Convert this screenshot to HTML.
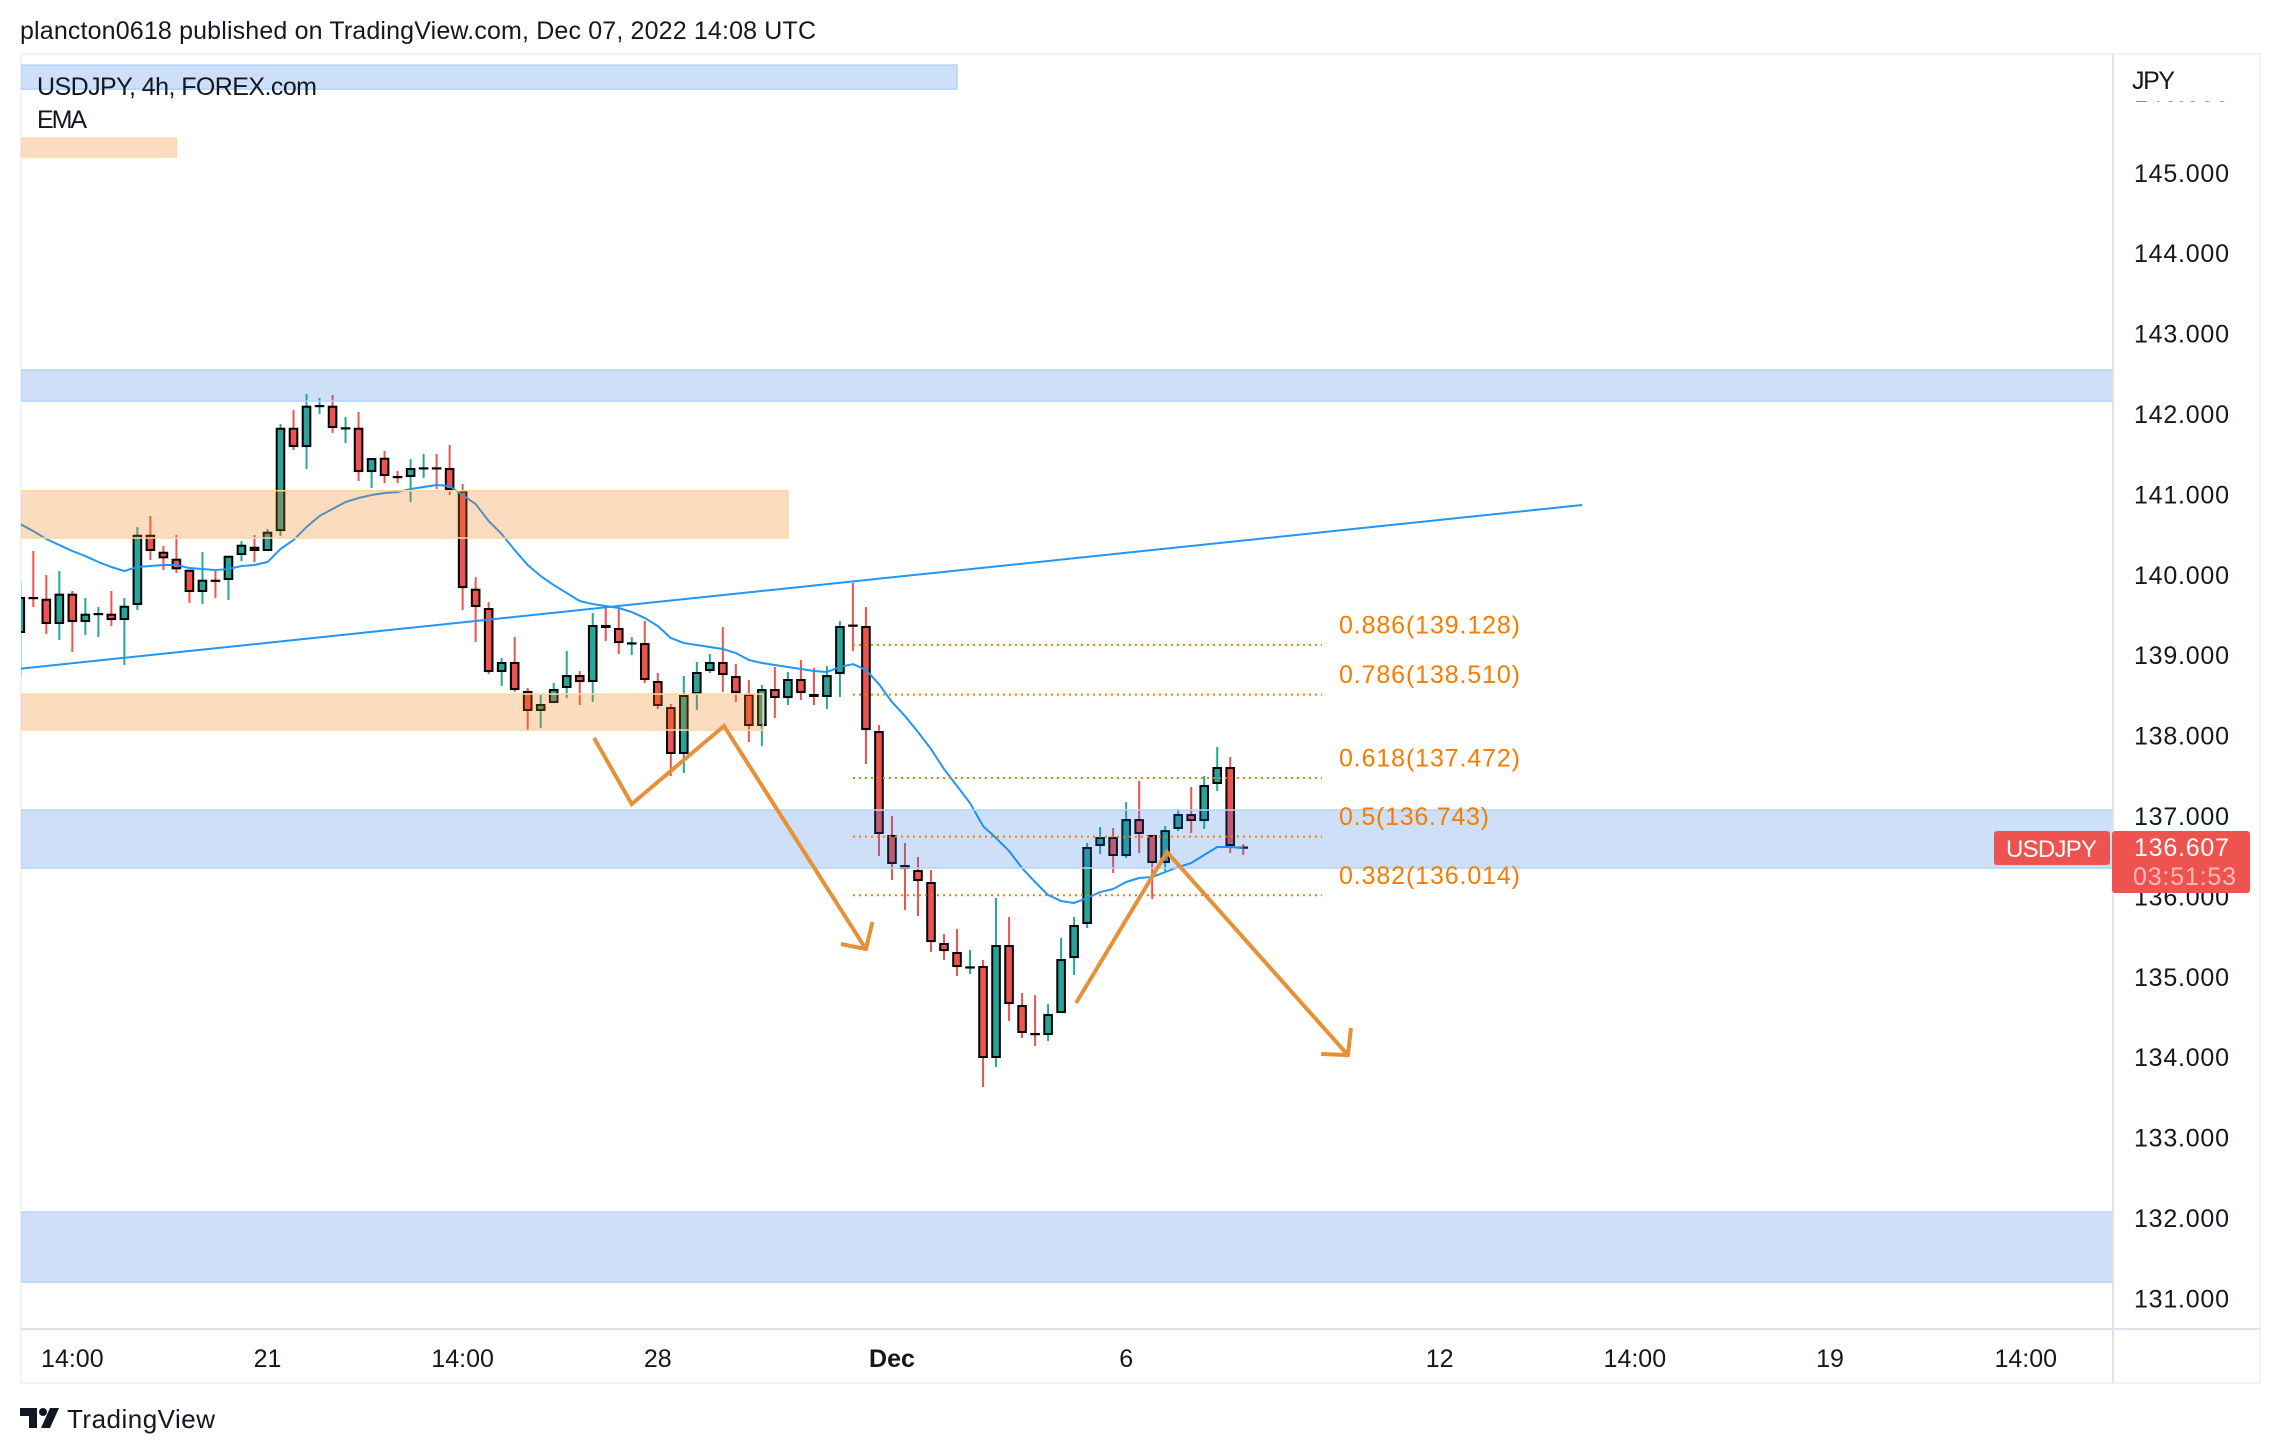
<!DOCTYPE html>
<html lang="en">
<head>
<meta charset="utf-8">
<title>USDJPY 4h chart</title>
<style>
html,body{margin:0;padding:0;background:#fff;width:2280px;height:1454px;overflow:hidden}
svg{display:block}
text{font-family:"Liberation Sans",sans-serif;fill:#131722}
</style>
</head>
<body>
<svg id="chart" xmlns="http://www.w3.org/2000/svg" width="2280" height="1454" viewBox="0 0 2280 1454">
  <defs><clipPath id="plot-clip"><rect x="21" y="55" width="2091" height="1273"/></clipPath></defs>
  <text x="20" y="39" font-size="25" textLength="796">plancton0618 published on TradingView.com, Dec 07, 2022 14:08 UTC</text>
  <rect x="21" y="54" width="2239" height="1329" fill="none" stroke="#f0f3fa" stroke-width="2"/>
  <g id="plot" clip-path="url(#plot-clip)">
    <g id="candles"></g>
    <path id="ema" fill="none" stroke="#2196f3" stroke-width="2" stroke-linejoin="round"/>
    <g id="zones"></g>
    <path id="trend" fill="none" stroke="#2196f3" stroke-width="2"/>
    <g id="fibs"></g>
    <g id="arrows"></g>
  </g>
  <text x="37" y="95" font-size="25" textLength="280">USDJPY, 4h, FOREX.com</text>
  <text x="37" y="128" font-size="25" textLength="50">EMA</text>
  <line x1="2113" y1="54" x2="2113" y2="1383" stroke="#e0e3eb" stroke-width="2"/>
  <line x1="21" y1="1329" x2="2260" y2="1329" stroke="#e0e3eb" stroke-width="2"/>
  <g id="price-axis"></g>
  <rect x="2115" y="56" width="143" height="45" fill="#fff"/>
  <text x="2132" y="89" font-size="25" textLength="43">JPY</text>
  <g id="time-axis"></g>
  <g>
    <rect x="1994" y="831" width="116" height="34" rx="3" fill="#ef5350"/>
    <text x="2006" y="857" font-size="24" textLength="91" style="fill:#fff">USDJPY</text>
    <rect x="2112" y="831" width="138" height="62" rx="3" fill="#ef5350"/>
    <text x="2134" y="856" font-size="25" textLength="95" style="fill:#fff">136.607</text>
    <text x="2133" y="885" font-size="25" textLength="103" style="fill:#fff;fill-opacity:.6">03:51:53</text>
  </g>
  <g>
    <path fill="#131722" d="M20 1408h17v20h-8v-12h-9z"/>
    <circle cx="43" cy="1412" r="4" fill="#131722"/>
    <path fill="#131722" d="M50 1408h9l-9 20h-9z"/>
    <text x="67" y="1428" font-size="26" textLength="148">TradingView</text>
  </g>
</svg>
<script>
const opens=[139.276,139.724,139.702,139.388,139.765,139.413,139.516,139.516,139.437,139.624,140.498,140.287,140.200,140.063,139.786,139.939,139.935,140.246,140.349,140.296,140.544,141.829,141.589,142.103,142.103,141.826,141.829,141.278,141.456,141.229,141.216,141.328,141.337,141.328,141.046,139.827,139.587,138.791,138.915,138.555,138.306,138.405,138.592,138.753,138.666,139.375,139.338,139.151,139.151,138.679,138.355,137.771,138.517,138.803,138.915,138.741,138.517,138.119,138.579,138.467,138.704,138.517,138.480,138.766,139.381,139.363,138.057,136.764,136.390,136.328,136.179,135.420,135.308,135.121,135.134,133.990,135.395,134.649,134.301,134.276,134.549,135.233,135.656,136.627,136.738,136.502,136.962,136.764,136.415,136.838,137.024,136.937,137.398,137.609,136.620];
const highs=[139.910,140.296,139.997,140.047,139.798,139.711,139.599,139.798,139.711,140.594,140.731,140.358,140.495,140.063,140.283,140.051,140.237,140.420,140.495,140.569,141.875,142.049,142.248,142.199,142.236,141.962,142.025,141.452,141.539,141.291,141.440,141.502,141.502,141.614,141.129,139.972,139.661,138.965,139.226,138.592,138.505,138.654,139.052,138.803,139.525,139.612,139.574,139.226,139.425,138.778,138.393,138.741,138.915,139.015,139.350,138.890,138.691,138.629,138.853,138.791,138.940,138.840,138.865,139.425,139.898,139.599,138.131,137.000,136.664,136.490,136.328,135.532,135.594,135.333,135.209,135.980,135.743,134.798,134.773,134.661,135.482,135.743,136.664,136.863,136.850,137.174,137.435,136.764,136.875,137.087,137.360,137.497,137.858,137.733,136.651];
const lows=[138.728,139.599,139.263,139.189,139.039,139.251,139.226,139.363,138.878,139.562,140.184,140.059,140.022,139.649,139.636,139.711,139.686,140.171,140.159,140.296,140.482,141.552,141.316,142.000,141.763,141.639,141.166,141.079,141.141,141.141,140.905,141.204,141.067,140.992,139.562,139.164,138.766,138.617,138.542,138.057,138.094,138.405,138.467,138.380,138.418,139.176,139.015,139.002,138.654,138.330,137.497,137.534,138.318,138.778,138.542,138.418,137.920,137.870,138.219,138.380,138.442,138.380,138.330,138.480,139.052,137.646,136.502,136.204,135.830,135.756,135.308,135.209,135.010,135.034,133.629,133.878,134.450,134.238,134.139,134.201,134.549,135.022,135.607,136.527,136.291,136.477,136.539,135.967,136.316,136.813,136.788,136.838,137.311,136.539,136.515];
const closes=[139.724,139.705,139.388,139.765,139.413,139.516,139.525,139.437,139.615,140.498,140.296,140.205,140.068,139.786,139.939,139.930,140.237,140.374,140.296,140.536,141.829,141.589,142.103,142.112,141.826,141.835,141.278,141.452,141.229,141.220,141.328,141.337,141.328,141.054,139.835,139.599,138.791,138.915,138.567,138.306,138.393,138.579,138.753,138.666,139.375,139.338,139.151,139.160,138.691,138.368,137.771,138.505,138.791,138.915,138.753,138.529,138.119,138.579,138.467,138.704,138.529,138.480,138.753,139.363,139.363,138.069,136.776,136.403,136.340,136.191,135.432,135.320,135.121,135.130,133.990,135.395,134.661,134.301,134.288,134.537,135.221,135.644,136.614,136.738,136.502,136.962,136.776,136.415,136.825,137.024,136.937,137.385,137.609,136.626,136.607];
const emaValues=[140.631,140.544,140.445,140.370,140.296,140.233,140.159,140.097,140.047,140.097,140.109,140.122,140.122,140.084,140.072,140.059,140.072,140.109,140.122,140.159,140.321,140.432,140.594,140.731,140.818,140.905,140.955,140.992,141.017,141.029,141.067,141.092,141.117,141.104,140.992,140.880,140.669,140.507,140.308,140.122,139.985,139.873,139.773,139.674,139.636,139.612,139.587,139.537,139.462,139.363,139.214,139.151,139.127,139.102,139.077,139.027,138.940,138.903,138.878,138.853,138.828,138.803,138.791,138.853,138.890,138.816,138.641,138.418,138.243,138.045,137.833,137.584,137.373,137.161,136.875,136.726,136.565,136.353,136.179,136.017,135.942,135.918,135.980,136.054,136.092,136.179,136.229,136.241,136.303,136.365,136.415,136.515,136.614,136.614,136.602];
const priceTicks=[146,145,144,143,142,141,140,139,138,137,136,135,134,133,132,131];
const timeTickBars=[4,19,34,49,67,85,109.1,124.1,139.1,154.15];
const timeTickLabels=["14:00","21","14:00","28","Dec","6","12","14:00","19","14:00"];
const zoneTops=[146.34,145.43,142.547,141.046,138.517,137.074,132.074];
const zoneBottoms=[146.04,145.196,142.161,140.457,138.069,136.353,131.203];
const zoneEndBars=[72,12,200,59,57.1,200,200];
const zoneKinds=["demand","supply","demand","supply","supply","demand","demand"];
const trendBars=[-1,120.04];
const trendPrices=[138.815,140.868];
const fibRatios=["0.886","0.786","0.618","0.5","0.382"];
const fibPrices=[139.128,138.510,137.472,136.743,136.014];
const fibStartBar=64;
const fibEndBar=100.05;
const arrowOneBars=[44.1,47,54.09,65];
const arrowOnePrices=[137.970,137.149,138.119,135.345];
const arrowOneHeadBars=[63.08,65,65.5];
const arrowOneHeadPrices=[135.408,135.345,135.681];
const arrowTwoBars=[81.15,88.14,102.05];
const arrowTwoPrices=[134.674,136.552,134.027];
const arrowTwoHeadBars=[99.98,102.05,102.28];
const arrowTwoHeadPrices=[134.04,134.027,134.363];

const NS="http://www.w3.org/2000/svg";
function xScale(bar){return 20.3+13.01*bar;}
function yScale(price){return 816-(price-137)*80.4;}
function make(tag,parentId){
  const el=document.createElementNS(NS,tag);
  document.getElementById(parentId).appendChild(el);
  return el;
}
function linePath(bars,prices){
  return bars.map((b,i)=>(i?"L":"M")+xScale(b).toFixed(2)+" "+yScale(prices[i]).toFixed(2)).join(" ");
}

opens.forEach((open,i)=>{
  const close=closes[i];
  const up=close>=open;
  const color=up?"#26a69a":"#ef5350";
  const cx=xScale(i);
  const wick=make("rect","candles");
  
  
  wick.setAttribute("x",(cx-1).toFixed(2));
  wick.setAttribute("width","2");
  wick.setAttribute("y",yScale(highs[i]).toFixed(2));
  wick.setAttribute("height",(yScale(lows[i])-yScale(highs[i])).toFixed(2));
  wick.setAttribute("fill",color);
  const top=yScale(Math.max(open,close));
  const bottom=yScale(Math.min(open,close));
  const body=make("rect","candles");
  
  
  body.setAttribute("x",(cx-3.8).toFixed(2));
  body.setAttribute("width","7.6");
  body.setAttribute("y",(top+1).toFixed(2));
  body.setAttribute("height",Math.max(bottom-top-2,0.2).toFixed(2));
  body.setAttribute("fill",color);
  body.setAttribute("stroke","#000");
  body.setAttribute("stroke-width","2");
});

document.getElementById("ema").setAttribute("d",linePath(emaValues.map((v,i)=>i),emaValues));
document.getElementById("trend").setAttribute("d",linePath(trendBars,trendPrices));

zoneTops.forEach((topPrice,i)=>{
  const blue=zoneKinds[i]==="demand";
  const zone=make("rect","zones");
  
  
  zone.setAttribute("x","16");
  zone.setAttribute("y",yScale(topPrice).toFixed(2));
  zone.setAttribute("width",(xScale(zoneEndBars[i])-16).toFixed(2));
  zone.setAttribute("height",(yScale(zoneBottoms[i])-yScale(topPrice)).toFixed(2));
  zone.setAttribute("fill",blue?"rgba(33,112,225,.22)":"rgba(240,125,20,.27)");
  zone.setAttribute("stroke",blue?"#b3d4fb":"#fdd9a0");
  zone.setAttribute("stroke-width","1.5");
});

fibPrices.forEach((price,i)=>{
  const line=make("line","fibs");
  
  
  line.setAttribute("x1",xScale(fibStartBar).toFixed(2));
  line.setAttribute("x2",xScale(fibEndBar).toFixed(2));
  line.setAttribute("y1",yScale(price).toFixed(2));
  line.setAttribute("y2",yScale(price).toFixed(2));
  line.setAttribute("stroke","#f57c00");
  line.setAttribute("stroke-width","2");
  line.setAttribute("stroke-dasharray","2 4");
  const label=make("text","fibs");
  
  
  label.setAttribute("x","1339");
  label.setAttribute("y",(yScale(price)-11.5).toFixed(2));
  label.setAttribute("font-size","25");
  label.setAttribute("textLength",fibRatios[i].length>3?"181":"150");
  label.setAttribute("style","fill:#f57c00");
  label.textContent=fibRatios[i]+"("+price.toFixed(3)+")";
});

[[arrowOneBars,arrowOnePrices],[arrowOneHeadBars,arrowOneHeadPrices],[arrowTwoBars,arrowTwoPrices],[arrowTwoHeadBars,arrowTwoHeadPrices]].forEach((pair)=>{
  const arrow=make("path","arrows");
  
  
  arrow.setAttribute("d",linePath(pair[0],pair[1]));
  arrow.setAttribute("fill","none");
  arrow.setAttribute("stroke","#e69138");
  arrow.setAttribute("stroke-width","4");
  arrow.setAttribute("stroke-linejoin","miter");
});

priceTicks.forEach((tick)=>{
  const label=make("text","price-axis");
  
  
  label.setAttribute("x","2134");
  label.setAttribute("y",(yScale(tick)+9).toFixed(2));
  label.setAttribute("font-size","25");
  label.setAttribute("textLength","95");
  label.textContent=tick.toFixed(3);
});

timeTickBars.forEach((bar,i)=>{
  const label=make("text","time-axis");
  
  
  label.setAttribute("x",xScale(bar).toFixed(2));
  label.setAttribute("y","1367");
  label.setAttribute("font-size","25");
  label.setAttribute("text-anchor","middle");
  if(timeTickLabels[i]==="Dec"){label.setAttribute("font-weight","700");}
  label.textContent=timeTickLabels[i];
});
</script>
</body>
</html>
